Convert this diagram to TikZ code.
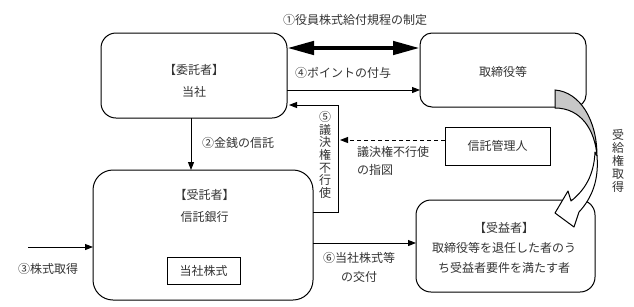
\documentclass[tikz,border=0pt]{standalone}
\usepackage{fontspec}
\setmainfont{Noto Sans CJK JP}
\usetikzlibrary{arrows.meta}
\begin{document}
\begin{tikzpicture}[x=1pt,y=-1pt,
  every node/.style={inner sep=0pt, outer sep=0pt, text=black!80, font=\fontsize{12}{15}\selectfont},
  rbox/.style={draw, line width=1pt, rounded corners=#1},
  sbox/.style={draw, line width=1pt},
  conn/.style={line width=1pt, -{Triangle[length=8pt,width=6pt]}},
  bigarrow/.style={line width=4.5pt, {Triangle[length=27pt,width=13pt]}-{Triangle[length=27pt,width=13pt]}},
  ml/.style={align=center, font=\fontsize{12}{#1}\selectfont},
]
\useasboundingbox (0,0) rectangle (634,306);

% boxes
\node[rbox=15pt, minimum width=186pt, minimum height=85pt] (itaku) at (194,75.5) {};
\node[rbox=12pt, minimum width=166pt, minimum height=74pt] (tori) at (503,70) {};
\node[rbox=20pt, minimum width=220pt, minimum height=130pt] (jutaku) at (203,235) {};
\node[sbox, minimum width=105pt, minimum height=38pt] (kanri) at (497.5,146) {信託管理人};
\node[rbox=15pt, minimum width=179pt, minimum height=92pt] (jueki) at (505.5,246) {};
\node[sbox, minimum width=73pt, minimum height=27pt] (kabu) at (203.5,270.5) {当社株式};

% box texts
\node[ml=22pt] (itakuT) at (194,81) {【委託者】\\当社};
\node (toriT) at (503,72) {取締役等};
\node[ml=22pt] (jutakuT) at (204.5,206) {【受託者】\\信託銀行};
\node[ml=20pt] (juekiT) at (504,247.5) {【受益者】\\取締役等を退任した者のう\\ち受益者要件を満たす者};

% labels
\node (l1) at (355,20) {①役員株式給付規程の制定};
\node (l4) at (343,72.5) {④ポイントの付与};
\node (l2) at (238,143) {②金銭の信託};
\node (l3) at (48,269) {③株式取得};
\node[ml=12.6pt] (l5) at (325,155) {⑤\\議\\決\\権\\不\\行\\使};
\node[ml=18pt, align=left, anchor=west] (lsashizu) at (357,161) {議決権不行使\\の指図};
\node[ml=19pt] (l6) at (359,267.5) {⑥当社株式等\\の交付};
\node[ml=13pt] (lju) at (618,161) {受\\給\\権\\取\\得};

% connectors
\draw[bigarrow] (itaku.east |- 0,48) -- (tori.west |- 0,48);
\draw[conn] (itaku.east |- 0,90) -- (tori.west |- 0,90);
\draw[conn] (itaku.south -| 191,0) -- (jutaku.north -| 191,0);
\coordinate (src3) at (28,247);
\draw[conn] (src3) -- (jutaku.west |- src3);
\draw[conn, shorten >=2pt] (jutaku.east |- 0,212) -- (338,212) -- (338,105) -- (itaku.east |- 0,105);
\coordinate (dend) at (340,140);
\draw[conn, dash pattern=on 4pt off 3pt] (kanri.west |- dend) -- (dend);
\draw[conn] (jutaku.east |- 0,243) -- (jueki.west |- 0,243);

% curved arrow (受給権取得)
\draw[line width=1pt, fill=black!22] (555,90) .. controls (580,92) and (597,120) .. (597,156)
  .. controls (595,130) and (581,108) .. (555,108) -- cycle;
\draw[line width=1pt, fill=white, line join=round] (595,152) .. controls (594,175) and (585,190) .. (571,201)
  -- (568,191) -- (555,213) -- (574,227) -- (579,212)
  .. controls (592,198) and (599,180) .. (597,156) -- cycle;
\end{tikzpicture}
\end{document}
